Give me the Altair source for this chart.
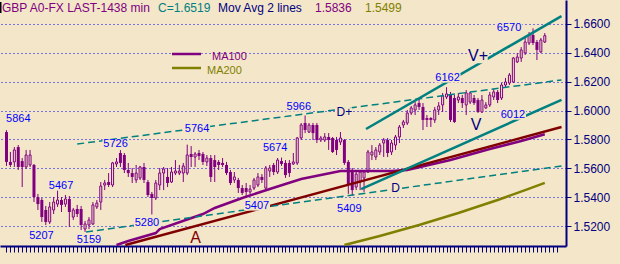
import altair as alt
import pandas as pd

# ---------------- data ----------------
opens = [1.5851, 1.5644, 1.5644, 1.5747, 1.5650, 1.5609, 1.5623, 1.5623, 1.5401, 1.5380,
         1.5311, 1.5228, 1.5311, 1.5352, 1.5380, 1.5352, 1.5387, 1.5262, 1.5318, 1.5318,
         1.5179, 1.5207, 1.5214, 1.5332, 1.5366, 1.5484, 1.5505, 1.5484, 1.5630, 1.5706,
         1.5692, 1.5588, 1.5567, 1.5519, 1.5533, 1.5609, 1.5505, 1.5422, 1.5394, 1.5484,
         1.5567, 1.5540, 1.5505, 1.5567, 1.5567, 1.5567, 1.5567, 1.5699, 1.5678, 1.5706,
         1.5699, 1.5644, 1.5671, 1.5657, 1.5644, 1.5637, 1.5623, 1.5574, 1.5519, 1.5519,
         1.5463, 1.5463, 1.5436, 1.5463, 1.5484, 1.5540, 1.5463, 1.5581, 1.5623, 1.5574,
         1.5650, 1.5637, 1.5637, 1.5630, 1.5637, 1.5810, 1.5914, 1.5851, 1.5900, 1.5900,
         1.5796, 1.5796, 1.5817, 1.5810, 1.5796, 1.5782, 1.5796, 1.5644, 1.5574, 1.5470,
         1.5505, 1.5533, 1.5574, 1.5692, 1.5678, 1.5713, 1.5775, 1.5796, 1.5713, 1.5761,
         1.5817, 1.5900, 1.5914, 1.5983, 1.6004, 1.6052, 1.6025, 1.5948, 1.5948, 1.5935,
         1.6004, 1.6039, 1.6094, 1.6108, 1.6087, 1.6073, 1.6087, 1.6039, 1.6059, 1.6087,
         1.6073, 1.5990, 1.6018, 1.6039, 1.6094, 1.6129, 1.6087, 1.6177, 1.6191, 1.6198,
         1.6337, 1.6364, 1.6399, 1.6468, 1.6524, 1.6475, 1.6406, 1.6475]
highs = [1.5864, 1.5713, 1.5747, 1.5761, 1.5671, 1.5727, 1.5727, 1.5630, 1.5422, 1.5394,
         1.5339, 1.5366, 1.5401, 1.5467, 1.5401, 1.5415, 1.5408, 1.5325, 1.5346, 1.5339,
         1.5235, 1.5262, 1.5366, 1.5380, 1.5505, 1.5519, 1.5567, 1.5644, 1.5671, 1.5726,
         1.5706, 1.5637, 1.5602, 1.5623, 1.5616, 1.5637, 1.5519, 1.5436, 1.5519, 1.5602,
         1.5609, 1.5602, 1.5609, 1.5657, 1.5623, 1.5637, 1.5764, 1.5754, 1.5713, 1.5727,
         1.5713, 1.5692, 1.5692, 1.5692, 1.5657, 1.5671, 1.5644, 1.5588, 1.5574, 1.5533,
         1.5484, 1.5498, 1.5484, 1.5533, 1.5567, 1.5560, 1.5616, 1.5623, 1.5637, 1.5671,
         1.5674, 1.5657, 1.5657, 1.5706, 1.5817, 1.5914, 1.5966, 1.5914, 1.5914, 1.5914,
         1.5824, 1.5844, 1.5844, 1.5817, 1.5817, 1.5851, 1.5803, 1.5657, 1.5602, 1.5588,
         1.5588, 1.5588, 1.5727, 1.5761, 1.5747, 1.5775, 1.5810, 1.5810, 1.5796, 1.5831,
         1.5900, 1.5935, 1.6004, 1.6032, 1.6059, 1.6087, 1.6052, 1.5969, 1.5955, 1.6025,
         1.6059, 1.6122, 1.6162, 1.6129, 1.6108, 1.6122, 1.6108, 1.6142, 1.6129, 1.6108,
         1.6087, 1.6108, 1.6059, 1.6129, 1.6150, 1.6142, 1.6191, 1.6226, 1.6260, 1.6371,
         1.6399, 1.6440, 1.6503, 1.6544, 1.6570, 1.6489, 1.6503, 1.6537]
lows = [1.5616, 1.5609, 1.5609, 1.5588, 1.5470, 1.5595, 1.5609, 1.5366, 1.5311, 1.5228,
        1.5207, 1.5214, 1.5283, 1.5332, 1.5297, 1.5332, 1.5193, 1.5242, 1.5262, 1.5172,
        1.5159, 1.5179, 1.5207, 1.5318, 1.5311, 1.5449, 1.5470, 1.5470, 1.5609, 1.5609,
        1.5567, 1.5540, 1.5498, 1.5498, 1.5519, 1.5498, 1.5401, 1.5280, 1.5380, 1.5449,
        1.5449, 1.5470, 1.5498, 1.5553, 1.5553, 1.5505, 1.5553, 1.5609, 1.5609, 1.5657,
        1.5623, 1.5616, 1.5505, 1.5505, 1.5588, 1.5609, 1.5553, 1.5484, 1.5498, 1.5429,
        1.5415, 1.5407, 1.5422, 1.5449, 1.5470, 1.5498, 1.5449, 1.5540, 1.5553, 1.5560,
        1.5616, 1.5533, 1.5540, 1.5623, 1.5623, 1.5796, 1.5844, 1.5844, 1.5796, 1.5775,
        1.5782, 1.5782, 1.5727, 1.5706, 1.5692, 1.5761, 1.5623, 1.5422, 1.5409, 1.5449,
        1.5449, 1.5436, 1.5567, 1.5657, 1.5657, 1.5692, 1.5678, 1.5678, 1.5692, 1.5727,
        1.5775, 1.5879, 1.5900, 1.5969, 1.5969, 1.6004, 1.5865, 1.5886, 1.5886, 1.5914,
        1.5969, 1.5990, 1.6080, 1.5921, 1.5914, 1.6052, 1.6018, 1.5969, 1.6045, 1.6039,
        1.5983, 1.5983, 1.6012, 1.6025, 1.6073, 1.6052, 1.6073, 1.6163, 1.6177, 1.6191,
        1.6330, 1.6337, 1.6385, 1.6454, 1.6454, 1.6350, 1.6399, 1.6468]
closes = [1.5644, 1.5623, 1.5727, 1.5609, 1.5609, 1.5692, 1.5692, 1.5401, 1.5352, 1.5262,
          1.5228, 1.5332, 1.5366, 1.5380, 1.5346, 1.5387, 1.5297, 1.5311, 1.5283, 1.5207,
          1.5214, 1.5242, 1.5346, 1.5359, 1.5477, 1.5498, 1.5484, 1.5637, 1.5644, 1.5637,
          1.5588, 1.5567, 1.5540, 1.5567, 1.5609, 1.5519, 1.5415, 1.5394, 1.5498, 1.5567,
          1.5595, 1.5498, 1.5574, 1.5581, 1.5581, 1.5616, 1.5692, 1.5678, 1.5699, 1.5685,
          1.5644, 1.5671, 1.5540, 1.5609, 1.5623, 1.5623, 1.5567, 1.5498, 1.5540, 1.5463,
          1.5429, 1.5436, 1.5456, 1.5519, 1.5540, 1.5519, 1.5602, 1.5602, 1.5574, 1.5657,
          1.5630, 1.5553, 1.5567, 1.5644, 1.5810, 1.5900, 1.5865, 1.5900, 1.5844, 1.5796,
          1.5810, 1.5817, 1.5796, 1.5713, 1.5727, 1.5810, 1.5637, 1.5484, 1.5449, 1.5560,
          1.5574, 1.5574, 1.5713, 1.5713, 1.5727, 1.5761, 1.5796, 1.5706, 1.5775, 1.5817,
          1.5886, 1.5921, 1.5983, 1.6018, 1.6039, 1.6025, 1.5935, 1.5935, 1.5935, 1.6004,
          1.6032, 1.6101, 1.6115, 1.5935, 1.5921, 1.6094, 1.6052, 1.6122, 1.6122, 1.6052,
          1.5990, 1.6073, 1.6039, 1.6108, 1.6129, 1.6073, 1.6177, 1.6198, 1.6246, 1.6364,
          1.6371, 1.6420, 1.6475, 1.6524, 1.6468, 1.6420, 1.6489, 1.6519]

# moving averages (bar index, value)
ma100_i = [28, 31, 38, 39, 50, 53, 60, 67, 75, 85, 98, 102, 113, 123, 131, 137]
ma100_v = [1.5068, 1.5096, 1.5151, 1.5179, 1.5283, 1.5325, 1.5394, 1.5456, 1.5526,
           1.5581, 1.5581, 1.5588, 1.5657, 1.5734, 1.5789, 1.5836]
ma200_i = [86, 95, 105, 115, 125, 132, 137]
ma200_v = [1.5068, 1.5131, 1.5207, 1.5290, 1.5380, 1.5449, 1.5499]

# trend lines: name, start index, start price, end index, end price
trend_names = ["A", "V+", "V", "D+", "D"]
trend_i0 = [30.25, 91.5, 90.25, 18.0, 20.25]
trend_p0 = [1.5068, 1.5872, 1.5456, 1.5768, 1.5158]
trend_i1 = [141.25, 141.25, 141.25, 141.25, 141.25]
trend_p1 = [1.5886, 1.6655, 1.6074, 1.6212, 1.5616]

# swing / trend labels
label_text = ["5864", "5726", "5764", "5966", "5674", "5467", "5207", "5159", "5280",
              "5407", "5409", "6162", "6012", "6570", "D+", "D", "V+", "V", "A"]
label_i = [3.0, 27.75, 48.5, 74.4, 68.4, 13.9, 8.9, 21.0, 35.75,
           63.75, 87.25, 112.25, 128.9, 127.9, 86.0, 99.0, 120.0, 119.5, 48.1]
label_p = [1.5942, 1.5768, 1.5872, 1.6025, 1.5741, 1.5477, 1.5131, 1.5103, 1.5221,
           1.5339, 1.5318, 1.6226, 1.5969, 1.6572, 1.5987, 1.5460, 1.6375, 1.5900, 1.5117]
label_kind = ["num"] * 14 + ["d", "d", "v", "v", "a"]

y_ticks = [1.52, 1.54, 1.56, 1.58, 1.60, 1.62, 1.64, 1.66]

# ---------------- styling ----------------
BG = "#F4E6C9"
PURPLE = "#800080"
OLIVE = "#808000"
MAROON = "#800000"
TEAL = "#008080"
NAVY = "#000080"
BLUE = "#0000FF"
FONT = "Liberation Sans"

kind_color = {"num": BLUE, "d": NAVY, "v": NAVY, "a": MAROON}
kind_size = {"num": 11, "d": 12, "v": 16, "a": 16}

xs = alt.Scale(domain=[-0.375, 141.125], nice=False, zero=False)
ys = alt.Scale(domain=[1.50614, 1.67662], nice=False, zero=False)

candles = pd.DataFrame({"i": list(range(len(opens))), "open": opens, "high": highs,
                        "low": lows, "close": closes})
candles["top"] = candles[["open", "close"]].max(axis=1)
candles["bot"] = candles[["open", "close"]].min(axis=1)
candles["up"] = candles["close"] >= candles["open"]

x_axis = alt.Axis(values=list(range(0, 141)), labels=False, tickSize=6, tickColor=NAVY,
                  tickWidth=1, domainColor=NAVY, domainWidth=2, grid=False, title=None)
y_axis = alt.Axis(orient="right", values=y_ticks, format=".4f", labelColor=NAVY,
                  labelFont=FONT, labelFontSize=12, tickColor=NAVY, tickSize=5,
                  labelPadding=2, domainColor=NAVY, domainWidth=2, grid=True,
                  gridColor=BLUE, gridDash=[1, 3], gridWidth=1, title=None,
                  labelOverlap=False, labelBound=False, tickCount=8)

wicks = alt.Chart(candles).mark_rule(color=PURPLE, strokeWidth=1).encode(
    x=alt.X("i:Q", scale=xs, axis=x_axis),
    y=alt.Y("low:Q", scale=ys, axis=y_axis),
    y2="high:Q",
)
down = alt.Chart(candles).transform_filter("!datum.up").mark_bar(
    size=3, color=PURPLE).encode(
    x=alt.X("i:Q", scale=xs, axis=x_axis),
    y=alt.Y("top:Q", scale=ys, axis=y_axis),
    y2="bot:Q",
)
up = alt.Chart(candles).transform_filter("datum.up").mark_bar(
    size=2, fill=BG, stroke=PURPLE, strokeWidth=1).encode(
    x=alt.X("i:Q", scale=xs, axis=x_axis),
    y=alt.Y("top:Q", scale=ys, axis=y_axis),
    y2="bot:Q",
)

def xy(df_x="i", df_y="p"):
    return dict(x=alt.X(f"{df_x}:Q", scale=xs, axis=x_axis),
                y=alt.Y(f"{df_y}:Q", scale=ys, axis=y_axis))

ma100 = alt.Chart(pd.DataFrame({"i": ma100_i, "p": ma100_v})).mark_line(
    color=PURPLE, strokeWidth=2.5, clip=True).encode(**xy())
ma200 = alt.Chart(pd.DataFrame({"i": ma200_i, "p": ma200_v})).mark_line(
    color=OLIVE, strokeWidth=2.5, clip=True).encode(**xy())

trend_style = {"A": (MAROON, 2.5, None), "V+": (TEAL, 2.5, None), "V": (TEAL, 2.5, None),
               "D+": (TEAL, 1.5, [7, 4]), "D": (TEAL, 1.5, [7, 4])}
trend_layers = []
for k, name in enumerate(trend_names):
    col, w, dash = trend_style[name]
    df = pd.DataFrame({"i": [trend_i0[k], trend_i1[k]], "p": [trend_p0[k], trend_p1[k]]})
    kw = dict(color=col, strokeWidth=w, clip=True)
    if dash:
        kw["strokeDash"] = dash
    trend_layers.append(alt.Chart(df).mark_line(**kw).encode(**xy()))

labels = pd.DataFrame({"text": label_text, "i": label_i, "p": label_p, "kind": label_kind})
labels["col"] = labels["kind"].map(kind_color)
labels["fs"] = labels["kind"].map(kind_size)

label_bg = alt.Chart(labels).transform_calculate(
    w="length(datum.text) * datum.fs * 0.56 + 2",
    h="datum.fs * 0.85",
).transform_calculate(
    x1="datum.i - datum.w / 8", x2="datum.i + datum.w / 8",
    y1="datum.p - datum.h / 2886", y2="datum.p + datum.h / 2886",
).mark_rect(fill=BG).encode(
    x=alt.X("x1:Q", scale=xs, axis=x_axis), x2="x2:Q",
    y=alt.Y("y1:Q", scale=ys, axis=y_axis), y2="y2:Q",
)
label_txt = alt.Chart(labels).mark_text(font=FONT, align="center", baseline="middle").encode(
    **xy(),
    text="text:N",
    color=alt.Color("col:N", scale=None),
    size=alt.Size("fs:Q", scale=None, legend=None),
)

one = alt.Data(values=[{}])

def htext(txt, x, y, color, size=12):
    return alt.Chart(one).mark_text(text=txt, align="left", baseline="alphabetic",
                                    font=FONT, fontSize=size, color=color).encode(
        x=alt.value(x), y=alt.value(y))

header = [
    alt.Chart(one).mark_rule(color="#000000", strokeWidth=1.5).encode(
        x=alt.value(0.75), y=alt.value(2), y2=alt.value(13)),
    htext("GBP A0-FX LAST-1438 min", 2, 12, PURPLE),
    htext("C=1.6519", 158, 12, TEAL),
    htext("Mov Avg 2 lines", 218, 12, NAVY),
    htext("1.5836", 315, 12, PURPLE),
    htext("1.5499", 365, 12, OLIVE),
    alt.Chart(one).mark_rule(color=PURPLE, strokeWidth=2.5).encode(
        x=alt.value(172), x2=alt.value(201), y=alt.value(54)),
    htext("MA100", 212, 60, PURPLE, 11),
    alt.Chart(one).mark_rule(color=OLIVE, strokeWidth=2.5).encode(
        x=alt.value(172), x2=alt.value(201), y=alt.value(68)),
    htext("MA200", 207, 74, OLIVE, 11),
]

chart = alt.layer(
    wicks, down, up, ma100, ma200, *trend_layers, label_bg, label_txt, *header
).properties(
    width=566, height=246,
    autosize=alt.AutoSizeParams(type="none"),
    padding={"left": 0, "top": 0, "right": 54, "bottom": 18},
    background=BG,
).configure_view(stroke=None, fill=BG)

chart.save("out.html", embed_options={"renderer": "svg", "actions": False})
